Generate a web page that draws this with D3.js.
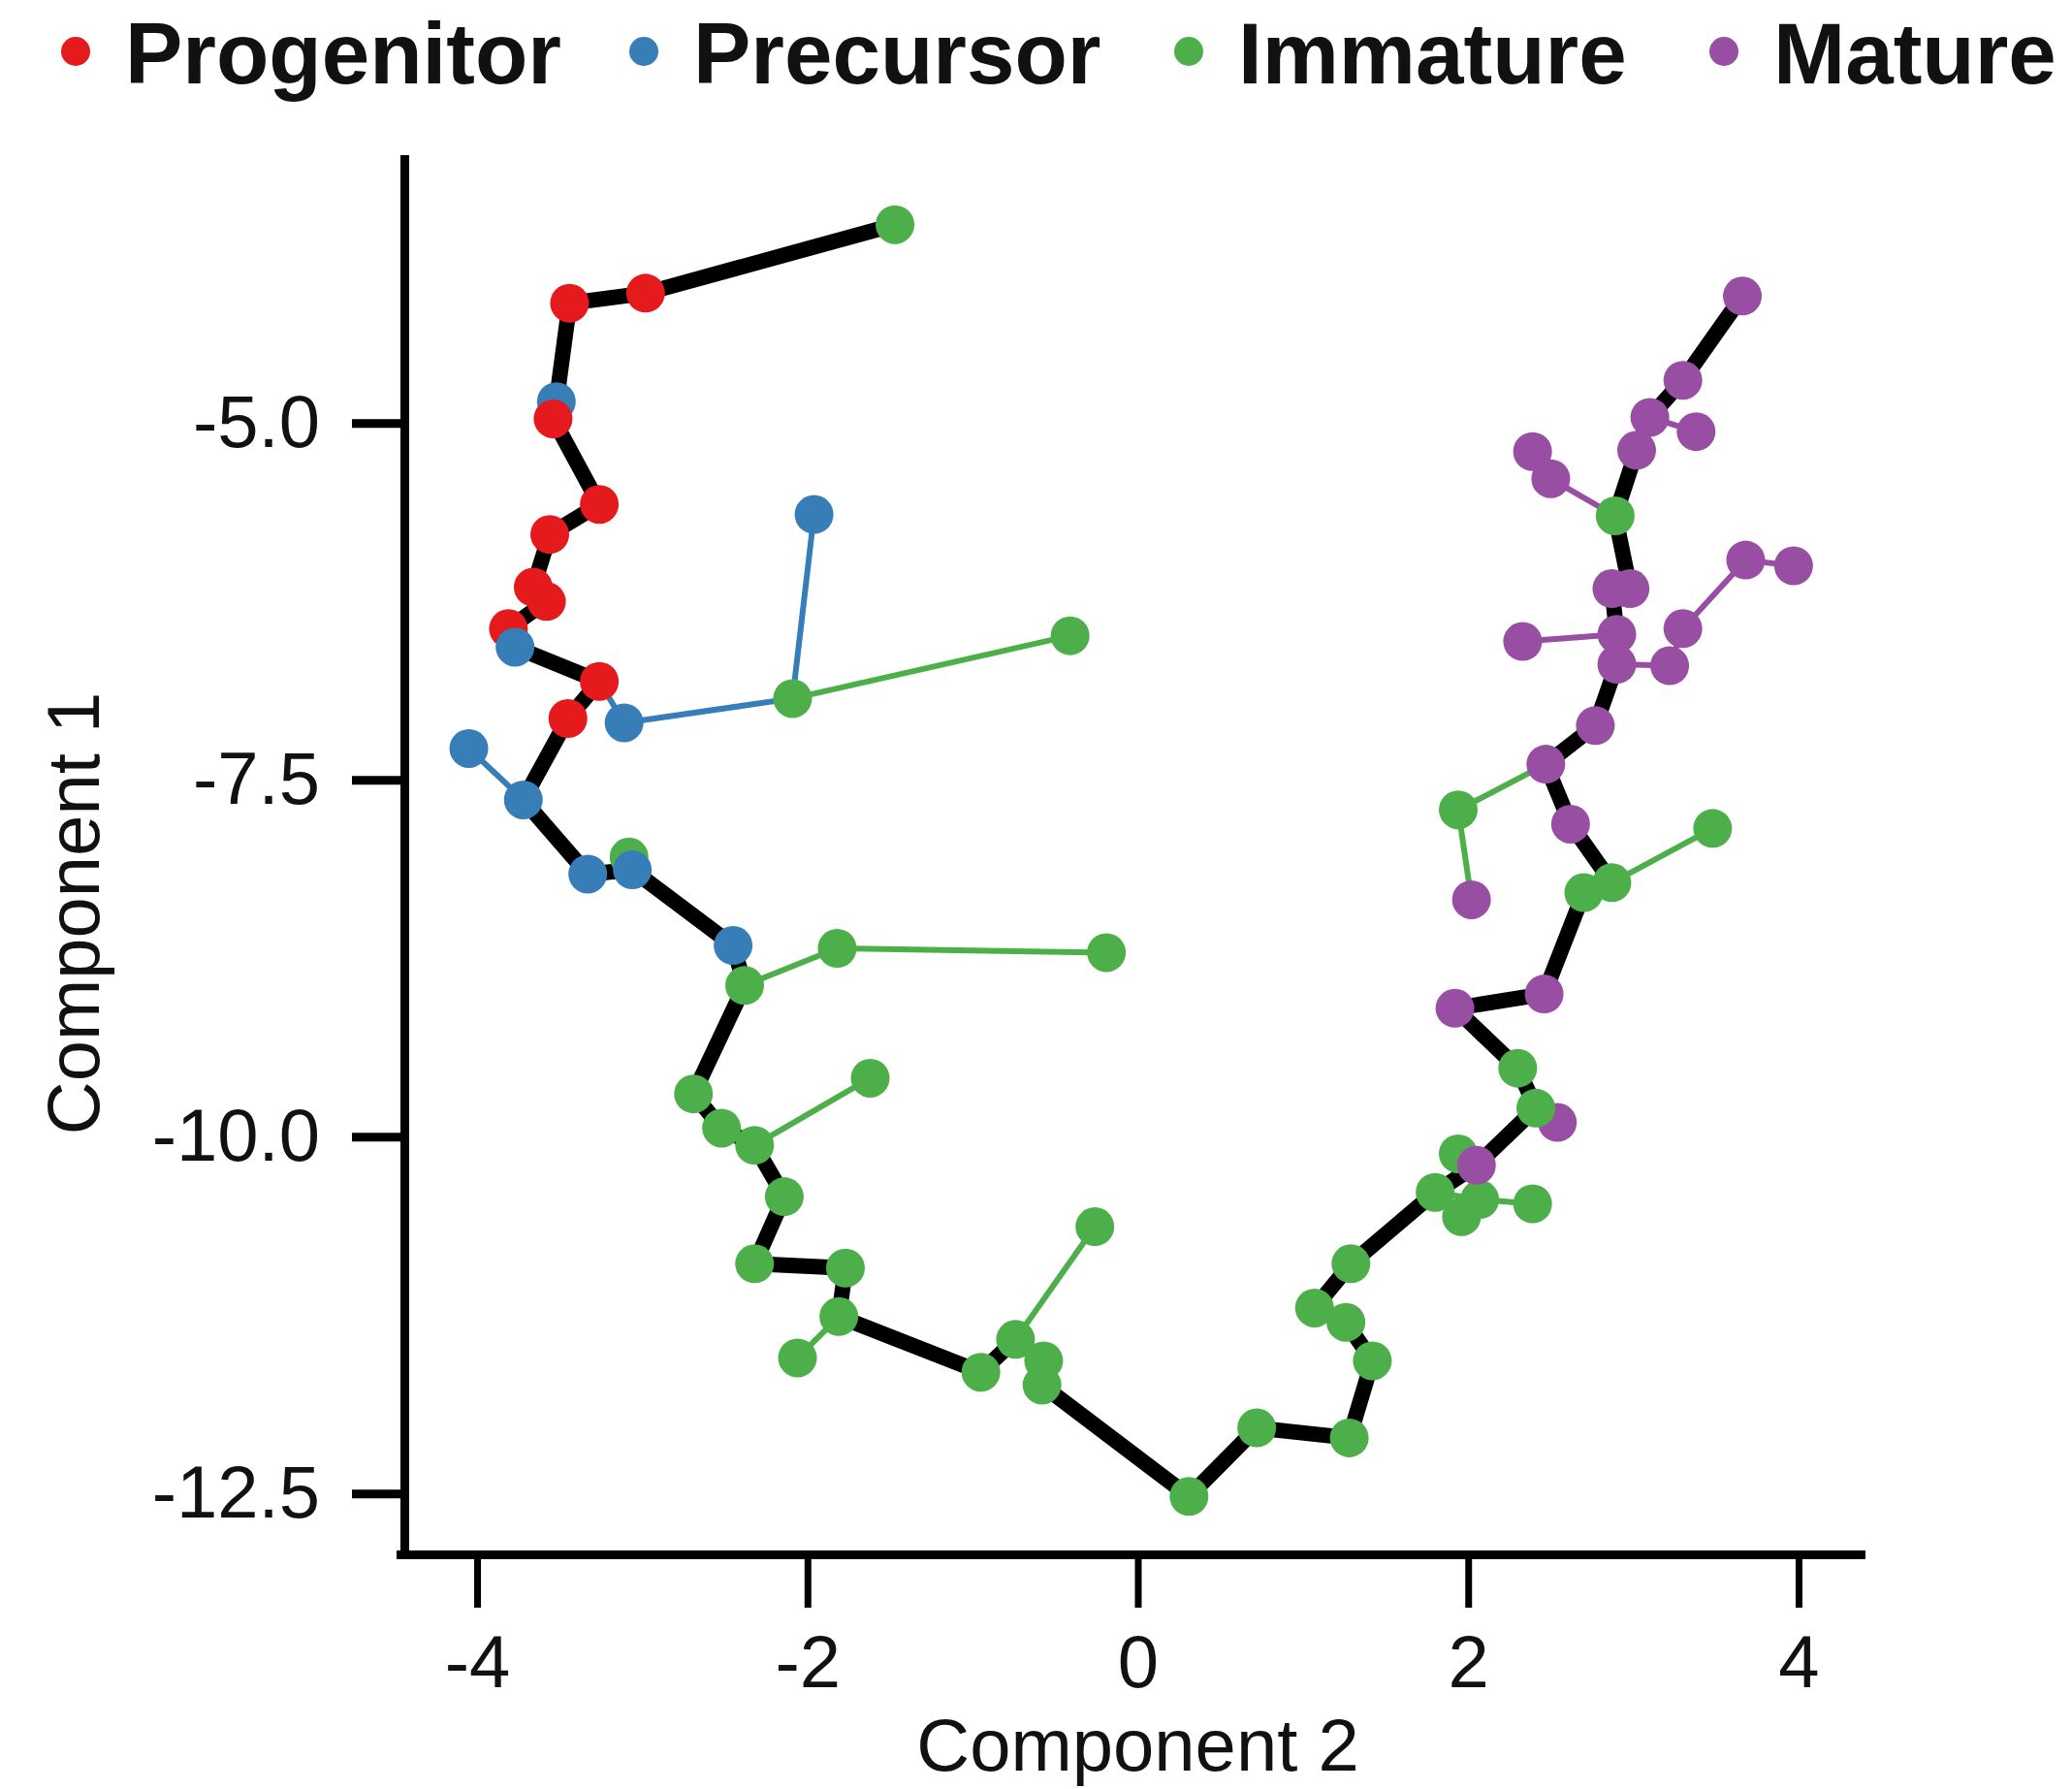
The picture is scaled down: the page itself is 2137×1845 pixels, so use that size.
<!DOCTYPE html>
<html>
<head>
<meta charset="utf-8">
<script src="https://cdn.jsdelivr.net/npm/d3@7"></script>
<style>
    body { margin: 0; background: #fff; }
    #chart { width: 2137px; height: 1845px; }
    .chart text { font-family: "Liberation Sans", Arial, Helvetica, sans-serif; fill: #111; }
    .axis path, .axis line { stroke: #000; }
    .legend text { font-weight: bold; }
    .trunk { fill: none; stroke: #000; stroke-linejoin: round; stroke-linecap: round; }
    .branch { stroke-linecap: round; }
</style>
</head>
<body>
<div id="chart"></div>
<script>
// cell states, index used by cellState and branches
const states = ['Progenitor', 'Precursor', 'Immature', 'Mature'];

// node coordinates (Component 2 = x, Component 1 = y)
const comp2 = [
    -1.47, -2.98, -3.44, -3.52, -3.54, -3.26, -3.56, -3.66, -3.58, -3.81,
    -3.77, -3.26, -3.45, -3.72, -3.33, -3.08, -3.06, -2.45, -2.38, -2.69,
    -2.52, -2.32, -2.14, -2.32, -1.77, -1.81, -0.95, -0.74, -0.57, -0.58,
     0.31,  0.72,  1.28,  1.42,  1.26,  1.07,  1.29,  1.80,  1.94,  2.05,
     2.41,  2.30,  1.92,  2.46,  2.70,  2.87,  2.62,  2.47,  2.77,  2.90,
     2.90,  2.87,  2.98,  2.89,  3.02,  3.10,  3.30,  3.66,
    -3.11, -2.09, -1.96, -0.41, -4.05, -1.82, -0.19, -1.62, -2.06, -0.26,
     1.96,  2.07,  2.39,  2.54,  1.94,  2.02,  3.48,  2.33,  3.22,  3.30,
     3.68,  3.97,  2.50,  2.39,  3.38
];
const comp1 = [
    -3.61, -4.09, -4.16, -4.85, -4.97, -5.57, -5.78, -6.15, -6.25, -6.44,
    -6.57, -6.81, -7.07, -7.64, -8.16, -8.04, -8.13, -8.66, -8.94, -9.70,
    -9.94, -10.06, -10.42, -10.89, -10.92, -11.26, -11.65, -11.42, -11.57, -11.74,
    -12.52, -12.04, -12.11, -11.57, -11.30, -11.20, -10.89, -10.39, -10.12, -10.20,
    -9.80, -9.52, -9.10, -9.00, -8.29, -8.22, -7.81, -7.39, -7.12, -6.69,
    -6.48, -6.16, -6.16, -5.65, -5.19, -4.96, -4.70, -4.11,
    -7.10, -6.93, -5.64, -6.49, -7.28, -8.68, -8.71, -9.59, -11.55, -10.63,
    -10.56, -10.44, -10.47, -9.90, -7.71, -8.34, -7.84, -6.53, -6.70, -6.44,
    -5.96, -6.00, -5.39, -5.20, -5.06
];
const cellState = [
    2, 0, 0, 1, 0, 0, 0, 0, 0, 0,
    1, 0, 0, 1, 1, 2, 1, 1, 2, 2,
    2, 2, 2, 2, 2, 2, 2, 2, 2, 2,
    2, 2, 2, 2, 2, 2, 2, 2, 2, 3,
    2, 2, 3, 3, 2, 2, 3, 3, 3, 3,
    3, 3, 3, 2, 3, 3, 3, 3,
    1, 2, 1, 2, 1, 2, 2, 2, 2, 2,
    2, 2, 2, 3, 2, 3, 2, 3, 3, 3,
    3, 3, 3, 3, 3
];

// main trajectory, node indices in order
const trunk = [
    0, 1, 2, 3, 4, 5, 6, 7, 8, 9, 10, 11, 12, 13, 14, 16, 17, 18, 19, 20,
    21, 22, 23, 24, 25, 26, 27, 28, 29, 30, 31, 32, 33, 34, 35, 36, 37, 39, 40, 41,
    42, 43, 44, 45, 46, 47, 48, 49, 50, 51, 52, 53, 54, 55, 56, 57
];

// side branches: [from, to, state of segment]
const branches = [
    [11, 58, 1], [58, 59, 1], [59, 60, 1], [59, 61, 2], [13, 62, 1], [16, 15, 2],
    [18, 63, 2], [63, 64, 2], [21, 65, 2], [25, 66, 2], [27, 67, 2],
    [37, 68, 2], [37, 69, 2], [69, 70, 2], [39, 38, 2], [40, 71, 3],
    [47, 72, 2], [72, 73, 2], [45, 74, 2], [50, 75, 3], [49, 76, 3],
    [76, 77, 3], [77, 78, 3], [78, 79, 3], [53, 80, 3], [80, 81, 3], [55, 82, 3]
];

const xTicks = [-4, -2, 0, 2, 4];
const yTicks = [-5, -7.5, -10, -12.5];

class TrajectoryChart {

    constructor(selection, config = {}) {
        let self = this;
        this.selection = selection;

        this.cfg = {
            'width': 2137,
            'height': 1845,
            'colors': ['#e41a1c', '#377eb8', '#4daf4a', '#984ea3'],
            'xDomain': [-4.464, 4.376],
            'xRange': [413, 1919],
            'yDomain': [-12.926, -3.15],
            'yRange': [1603, 164],
            'yAxisX': 417,
            'axisWidth': 9,
            'fontsize': 76,
            'titlesize': 76,
            'legendsize': 89,
            'legendX': [78, 664, 1226, 1778],
            'pointR': 20,
            'trunkWidth': 16,
            'branchWidth': 6
        };

        Object.keys(config).forEach(function(key) { self.cfg[key] = config[key]; });

        this.xScale = d3.scaleLinear().domain(this.cfg.xDomain).range(this.cfg.xRange);
        this.yScale = d3.scaleLinear().domain(this.cfg.yDomain).range(this.cfg.yRange);
        this.colorScale = d3.scaleOrdinal().domain(d3.range(states.length)).range(this.cfg.colors);

        this.draw();
    }

    draw() {
        let self = this;
        const x = this.xScale, y = this.yScale;

        this.svg = this.selection.append('svg')
            .attr('class', 'chart')
            .attr('width', this.cfg.width)
            .attr('height', this.cfg.height)
            .attr('viewBox', '0 0 ' + this.cfg.width + ' ' + this.cfg.height);

        // AXIS
        this.xAxis = this.svg.append('g')
            .attr('class', 'axis axis--x')
            .attr('transform', 'translate(0,' + this.cfg.yRange[0] + ')')
            .call(d3.axisBottom(x).tickValues(xTicks).tickSize(55).tickSizeOuter(0)
                .tickPadding(28).tickFormat(function(d) { return String(d); }));

        this.yAxis = this.svg.append('g')
            .attr('class', 'axis axis--y')
            .attr('transform', 'translate(' + this.cfg.yAxisX + ',0)')
            .call(d3.axisLeft(y).tickValues(yTicks).tickSize(54).tickSizeOuter(0)
                .tickPadding(33).tickFormat(function(d) { return d.toFixed(1); }));

        this.svg.selectAll('.axis')
            .attr('font-family', null)
            .attr('font-size', this.cfg.fontsize);
        this.svg.selectAll('.axis .domain')
            .attr('stroke-width', this.cfg.axisWidth)
            .attr('stroke-linecap', 'square');
        this.xAxis.selectAll('.tick line').attr('stroke-width', 7);
        this.yAxis.selectAll('.tick line').attr('stroke-width', 9);
        this.svg.selectAll('.axis text').attr('fill', '#111');

        // AXIS TITLES
        this.svg.append('text')
            .attr('class', 'title')
            .attr('text-anchor', 'middle')
            .attr('font-size', this.cfg.titlesize)
            .attr('transform', 'translate(' + x(0) + ',1826)')
            .text('Component 2');

        this.svg.append('text')
            .attr('class', 'title')
            .attr('text-anchor', 'middle')
            .attr('font-size', this.cfg.titlesize)
            .attr('transform', 'translate(102,942) rotate(-90)')
            .text('Component 1');

        // BRANCHES
        this.svg.append('g').attr('class', 'branches')
            .selectAll('line')
            .data(branches)
            .enter().append('line')
            .attr('class', 'branch')
            .attr('x1', function(d) { return x(comp2[d[0]]); })
            .attr('y1', function(d) { return y(comp1[d[0]]); })
            .attr('x2', function(d) { return x(comp2[d[1]]); })
            .attr('y2', function(d) { return y(comp1[d[1]]); })
            .attr('stroke', function(d) { return self.colorScale(d[2]); })
            .attr('stroke-width', this.cfg.branchWidth);

        // TRUNK
        const line = d3.line()
            .x(function(i) { return x(comp2[i]); })
            .y(function(i) { return y(comp1[i]); });

        this.svg.append('path')
            .attr('class', 'trunk')
            .attr('stroke-width', this.cfg.trunkWidth)
            .attr('d', line(trunk));

        // POINTS (side nodes first, trunk nodes on top)
        const inTrunk = new Set(trunk);
        const order = d3.range(comp2.length).filter(function(i) { return !inTrunk.has(i); }).concat(trunk);

        this.svg.append('g').attr('class', 'points')
            .selectAll('circle')
            .data(order)
            .enter().append('circle')
            .attr('cx', function(i) { return x(comp2[i]); })
            .attr('cy', function(i) { return y(comp1[i]); })
            .attr('r', this.cfg.pointR)
            .attr('fill', function(i) { return self.colorScale(cellState[i]); });

        // LEGEND
        const lg = this.svg.append('g').attr('class', 'legend')
            .selectAll('g')
            .data(states)
            .enter().append('g')
            .attr('transform', function(d, i) { return 'translate(' + self.cfg.legendX[i] + ',0)'; });

        lg.append('circle')
            .attr('cx', 0)
            .attr('cy', 53)
            .attr('r', 15)
            .attr('fill', function(d, i) { return self.colorScale(i); });

        lg.append('text')
            .attr('x', 51)
            .attr('y', 86)
            .attr('font-size', this.cfg.legendsize)
            .text(function(d) { return d; });
    }
}

new TrajectoryChart(d3.select('#chart'));
</script>
</body>
</html>
